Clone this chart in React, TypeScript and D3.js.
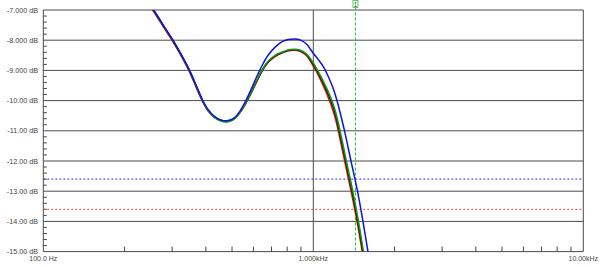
import React from "react";
import * as d3 from "d3";

const W = 600;
const H = 267;

const yTicks = [-7, -8, -9, -10, -11, -12, -13, -14, -15];
const yTickLabels = ["-7.000 dB", "-8.000 dB", "-9.000 dB", "-10.00 dB", "-11.00 dB", "-12.00 dB", "-13.00 dB", "-14.00 dB", "-15.00 dB"];
const xMajor = [100, 1000, 10000];
const xMajorLabels = ["100.0 Hz", "1.000kHz", "10.00kHz"];
const xMinor = [200, 300, 400, 500, 600, 700, 800, 900, 2000, 3000, 4000, 5000, 6000, 7000, 8000, 9000];

const freqs = [230, 256, 278, 302, 324, 348, 368, 389, 408, 429, 452, 479, 505, 532, 559, 589, 620, 647, 680, 722, 767, 807, 850, 894, 941, 1000, 1045, 1088, 1136, 1185, 1216, 1251, 1324, 1402, 1467, 1531, 1625];
const greenDb = [-6.5, -7.0, -7.5, -8.0, -8.47, -9.0, -9.5, -10.0, -10.33, -10.55, -10.67, -10.71, -10.64, -10.43, -10.12, -9.72, -9.3, -8.97, -8.7, -8.5, -8.39, -8.32, -8.3, -8.33, -8.45, -8.75, -9.05, -9.35, -9.7, -10.12, -10.45, -10.92, -11.97, -13.02, -13.95, -14.95, -16.4];
const blackDb = [-6.52, -7.02, -7.52, -8.02, -8.49, -9.02, -9.52, -10.01, -10.33, -10.54, -10.65, -10.69, -10.62, -10.42, -10.12, -9.73, -9.32, -8.99, -8.72, -8.52, -8.41, -8.34, -8.32, -8.35, -8.47, -8.8, -9.1, -9.42, -9.8, -10.23, -10.57, -11.06, -12.1, -13.15, -14.08, -15.08, -16.55];
const redDb = [-6.55, -7.05, -7.55, -8.05, -8.52, -9.05, -9.55, -10.03, -10.35, -10.55, -10.65, -10.68, -10.62, -10.42, -10.13, -9.75, -9.34, -9.02, -8.74, -8.54, -8.42, -8.35, -8.33, -8.37, -8.5, -8.86, -9.17, -9.5, -9.9, -10.35, -10.7, -11.2, -12.25, -13.3, -14.22, -15.22, -16.7];

const blueFreqs = [230, 256, 278, 302, 324, 348, 368, 389, 408, 429, 452, 479, 505, 532, 559, 589, 620, 647, 680, 722, 767, 807, 850, 894, 941, 1000, 1045, 1088, 1136, 1185, 1226, 1269, 1305, 1379, 1458, 1527, 1594, 1682];
const blueDb = [-6.5, -7.0, -7.5, -8.0, -8.47, -9.0, -9.49, -9.98, -10.3, -10.51, -10.63, -10.67, -10.6, -10.38, -10.05, -9.62, -9.17, -8.83, -8.5, -8.23, -8.05, -7.98, -7.96, -7.99, -8.12, -8.43, -8.65, -8.87, -9.2, -9.6, -10.02, -10.55, -11.0, -12.0, -13.0, -14.0, -15.0, -16.3];

const blueRefDb = -12.6;
const redRefDb = -13.6;
const markerFreq = 1433;
const markerLabel = "1";

export default function App() {
  const x = d3.scaleLog().domain([100, 10000]).range([43.3, 583.3]);
  const y = d3.scaleLinear().domain([-7, -15]).range([10, 251.6]);
  const line = d3
    .line<[number, number]>()
    .x((d) => x(d[0]))
    .y((d) => y(d[1]))
    .curve(d3.curveCatmullRom.alpha(0.5));

  const [x0, x1] = x.range();
  const [y0, y1] = y.range();
  const minorY: number[] = [];
  for (let i = 0; i < yTicks.length - 1; i++) {
    for (let k = 1; k < 5; k++) minorY.push(yTicks[i] - k * 0.2);
  }

  const series = [
    { f: freqs, v: redDb, c: "#e01010" },
    { f: freqs, v: blackDb, c: "#202020" },
    { f: freqs, v: greenDb, c: "#109a10" },
    { f: blueFreqs, v: blueDb, c: "#1010e0" },
  ];

  const mx = Math.round(x(markerFreq)) + 0.5;
  const font = "Liberation Sans, Arial, sans-serif";

  return (
    <svg width={W} height={H} style={{ position: "absolute", left: 0, top: 0, background: "#fff" }}>
      <defs>
        <clipPath id="plot">
          <rect x={x0} y={y0} width={x1 - x0} height={y1 - y0} />
        </clipPath>
      </defs>
      {yTicks.map((t, i) => (
        <g key={t}>
          <line x1={x0} x2={x1} y1={y(t)} y2={y(t)} stroke="#4a4a4a" strokeWidth={1} />
          <text x={38} y={y(t) + 2.5} textAnchor="end" fontSize={7.2} fill="#444" fontFamily={font}>
            {yTickLabels[i]}
          </text>
        </g>
      ))}
      {minorY.map((t) => (
        <line key={t} x1={x0} x2={x0 + 3.5} y1={y(t)} y2={y(t)} stroke="#444" strokeWidth={1} />
      ))}
      {xMinor.map((f) => (
        <line key={f} x1={x(f)} x2={x(f)} y1={y1} y2={y1 - 5} stroke="#444" strokeWidth={1} />
      ))}
      {xMajor.map((f, i) => (
        <g key={f}>
          <line x1={x(f)} x2={x(f)} y1={y0} y2={y1} stroke="#4a4a4a" strokeWidth={1} />
          <text x={x(f)} y={261} textAnchor="middle" fontSize={7} fill="#444" fontFamily={font}>
            {xMajorLabels[i]}
          </text>
        </g>
      ))}
      <line x1={x0} x2={x1} y1={y(blueRefDb)} y2={y(blueRefDb)} stroke="#3434c8" strokeWidth={1} strokeDasharray="2,2" />
      <line x1={x0} x2={x1} y1={y(redRefDb)} y2={y(redRefDb)} stroke="#e04848" strokeWidth={1} strokeDasharray="2,2" />
      <line x1={mx} x2={mx} y1={7.5} y2={y1} stroke="#22cc22" strokeWidth={1} strokeDasharray="3,2" />
      <rect x={mx - 2.5} y={0.5} width={5} height={7} fill="#fff" stroke="#38c038" strokeWidth={0.8} />
      <text x={mx} y={6.5} textAnchor="middle" fontSize={6.5} fill="#553366" fontFamily={font}>
        {markerLabel}
      </text>
      <g clipPath="url(#plot)">
        {series.map((s, i) => (
          <path
            key={i}
            d={line(s.f.map((f, j) => [f, s.v[j]] as [number, number])) || ""}
            fill="none"
            stroke={s.c}
            strokeWidth={1.5}
          />
        ))}
      </g>
    </svg>
  );
}
